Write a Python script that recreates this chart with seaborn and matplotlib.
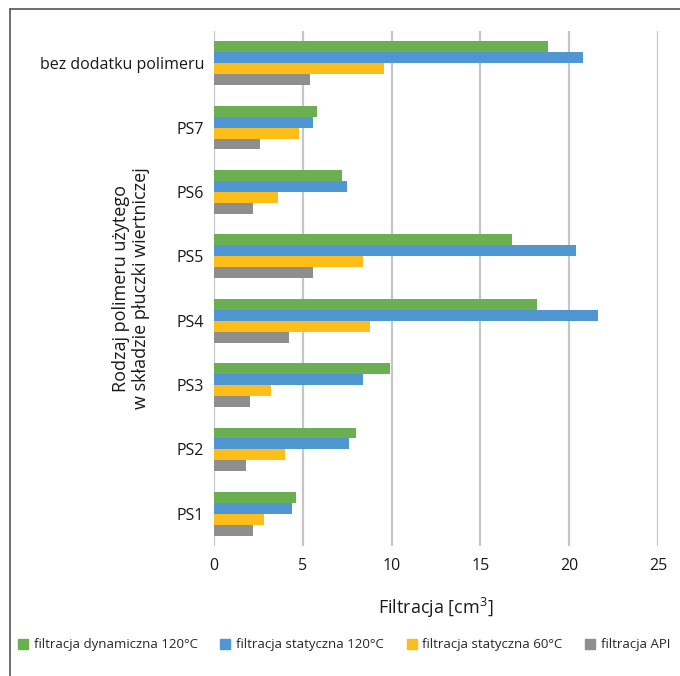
import matplotlib
matplotlib.use("Agg")
import matplotlib.pyplot as plt
import matplotlib.lines as mlines
import pandas as pd
import seaborn as sns

# Data: filtration volume [cm3] per polymer additive
categories = ["bez dodatku polimeru", "PS7", "PS6", "PS5", "PS4", "PS3", "PS2", "PS1"]
series_names = [
    "filtracja dynamiczna 120°C",
    "filtracja statyczna 120°C",
    "filtracja statyczna 60°C",
    "filtracja API",
]
dyn_120 = [18.8, 5.8, 7.2, 16.8, 18.2, 9.9, 8.0, 4.6]
stat_120 = [20.8, 5.6, 7.5, 20.4, 21.6, 8.4, 7.6, 4.4]
stat_60 = [9.6, 4.8, 3.6, 8.4, 8.8, 3.2, 4.0, 2.8]
api = [5.4, 2.6, 2.2, 5.6, 4.2, 2.0, 1.8, 2.2]
x_ticks = [0, 5, 10, 15, 20, 25]

colors = ["#6AAF50", "#5096D2", "#FDBE1A", "#8E8E8E"]

rows = []
for name, vals in zip(series_names, [dyn_120, stat_120, stat_60, api]):
    for cat, v in zip(categories, vals):
        rows.append({"kategoria": cat, "seria": name, "wartosc": v})
df = pd.DataFrame(rows)

sns.set_theme(style="white")
plt.rcParams["font.family"] = ["Open Sans", "DejaVu Sans"]
plt.rcParams["mathtext.fontset"] = "custom"
plt.rcParams["mathtext.rm"] = "Open Sans"
plt.rcParams["mathtext.default"] = "rm"

fig = plt.figure(figsize=(6.8, 6.76), dpi=100)
ax = fig.add_axes([214 / 680, 1 - 546 / 676, 444 / 680, 515 / 676])

sns.barplot(
    data=df, x="wartosc", y="kategoria", hue="seria",
    order=categories, hue_order=series_names, palette=colors,
    orient="h", width=0.68, saturation=1, errorbar=None,
    edgecolor="none", ax=ax, legend=False, zorder=3,
)

ax.set_xlim(0, 25)
ax.set_xticks(x_ticks)
ax.set_xticklabels([str(t) for t in x_ticks])
ax.set_ylim(len(categories) - 0.5, -0.5)
ax.grid(axis="x", color="#C6C6C6", linewidth=1.6, zorder=0)
ax.grid(axis="y", visible=False)
for s in ax.spines.values():
    s.set_visible(False)
ax.tick_params(axis="both", length=0, labelsize=11.5, colors="#1a1a1a")
ax.tick_params(axis="x", pad=9)
ax.tick_params(axis="y", pad=7)

ax.set_xlabel("Filtracja [cm$^{3}$]", fontsize=13, color="#1a1a1a")
ax.xaxis.set_label_coords(0.5, -0.097)
ax.set_ylabel("Rodzaj polimeru użytego\nw składzie płuczki wiertniczej",
              fontsize=13, color="#1a1a1a", linespacing=1.15)
ax.yaxis.set_label_coords(-0.145, 0.5)

handles = [
    mlines.Line2D([], [], marker="s", linestyle="none", markersize=7,
                  markerfacecolor=c, markeredgecolor=c)
    for c in colors
]
fig.legend(handles, series_names, loc="center", bbox_to_anchor=(0.505, 0.046),
           ncol=4, frameon=False, fontsize=9.5, handletextpad=0.3,
           columnspacing=1.6, handlelength=1.0)

# outer frame lines
fig.add_artist(mlines.Line2D([10 / 680, 1], [1 - 9 / 676, 1 - 9 / 676],
                             color="#555555", linewidth=1.2, transform=fig.transFigure))
fig.add_artist(mlines.Line2D([10 / 680, 10 / 680], [0, 1 - 9 / 676],
                             color="#555555", linewidth=1.2, transform=fig.transFigure))

fig.savefig("out.png", dpi=100)
